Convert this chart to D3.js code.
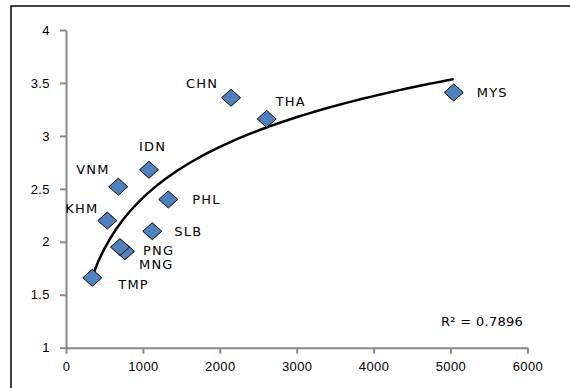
<!DOCTYPE html>
<html>
<head>
<meta charset="utf-8">
<script src="https://cdn.jsdelivr.net/npm/d3@7"></script>
<style>
  body { margin: 0; background: #fff; }
  svg { display: block; font-family: "DejaVu Sans", sans-serif; }
  .axis path, .axis line { stroke: #898989; stroke-width: 2; }
  .axis text { font-size: 13px; fill: #000; letter-spacing: 0.4px; }
  .lbl { font-size: 13px; letter-spacing: 1.2px; fill: #000; }
</style>
</head>
<body>
<script>
// countries, x values, y values
var countries = ["TMP", "MNG", "PNG", "KHM", "VNM", "SLB", "PHL", "IDN", "CHN", "THA", "MYS"];
var xValues = [342, 767, 702, 537, 680, 1122, 1330, 1079, 2146, 2610, 5042];
var yValues = [1.66, 1.91, 1.95, 2.2, 2.52, 2.1, 2.4, 2.68, 3.36, 3.16, 3.41];
var xTicks = [0, 1000, 2000, 3000, 4000, 5000, 6000];
var yTicks = [1, 1.5, 2, 2.5, 3, 3.5, 4];
var r2Text = "R\u00b2 = 0.7896";

// label placement relative to each marker (dx, dy to text middle)
var labelPos = {
  TMP: [26, 7], MNG: [14, 13], PNG: [23, 3], KHM: [-42, -12], VNM: [-42, -17],
  SLB: [22, 0], PHL: [24, 0], IDN: [-10, -23], CHN: [-45, -14], THA: [9, -18], MYS: [23, 0]
};

var width = 570, height = 388;
var svg = d3.select("body").append("svg").attr("width", width).attr("height", height);

// outer frame (runs off the right and bottom edges)
svg.append("rect").attr("x", 11).attr("y", 6).attr("width", 600).attr("height", 420)
  .attr("fill", "none").attr("stroke", "#000").attr("stroke-width", 1.5);

var x = d3.scaleLinear().domain([0, 6000]).range([66, 527.4]);
var y = d3.scaleLinear().domain([1, 4]).range([347.7, 30]);

svg.append("g").attr("class", "axis")
  .attr("transform", "translate(0," + y(1) + ")")
  .call(d3.axisBottom(x).tickValues(xTicks).tickFormat(d3.format("d"))
    .tickSize(6).tickSizeOuter(0).tickPadding(8));
svg.append("g").attr("class", "axis")
  .attr("transform", "translate(" + x(0) + ",0)")
  .call(d3.axisLeft(y).tickValues(yTicks).tickFormat(d3.format(""))
    .tickSize(6).tickSizeOuter(0).tickPadding(10));

var pts = countries.map(function (c, i) {
  return { name: c, x: xValues[i], y: yValues[i] };
});

// logarithmic trendline fit  y = a ln(x) + b
var lx = pts.map(function (d) { return Math.log(d.x); });
var mx = d3.mean(lx), my = d3.mean(yValues);
var sxy = d3.sum(lx, function (v, i) { return (v - mx) * (yValues[i] - my); });
var sxx = d3.sum(lx, function (v) { return (v - mx) * (v - mx); });
var a = sxy / sxx, b = my - a * mx;
var xmin = d3.min(xValues), xmax = d3.max(xValues);
var trend = d3.range(0, 61).map(function (i) {
  var xv = xmin + (xmax - xmin) * i / 60;
  return [xv, a * Math.log(xv) + b];
});
svg.append("path")
  .attr("d", d3.line().x(function (d) { return x(d[0]); }).y(function (d) { return y(d[1]); })(trend))
  .attr("fill", "none").attr("stroke", "#000").attr("stroke-width", 2.5);

svg.append("g").selectAll("path").data(pts).enter().append("path")
  .attr("transform", function (d) { return "translate(" + x(d.x) + "," + y(d.y) + ")"; })
  .attr("d", "M0,-8.5L9.5,0L0,8.5L-9.5,0Z")
  .attr("fill", "#4F81BD").attr("stroke", "#000").attr("stroke-width", 1);

svg.append("g").selectAll("text").data(pts).enter().append("text")
  .attr("class", "lbl")
  .attr("x", function (d) { return x(d.x) + labelPos[d.name][0]; })
  .attr("y", function (d) { return y(d.y) + labelPos[d.name][1]; })
  .attr("dy", "0.36em")
  .text(function (d) { return d.name; });

svg.append("text").attr("class", "lbl").style("letter-spacing", "0.3px")
  .attr("x", 441).attr("y", 321).attr("dy", "0.36em").text(r2Text);
</script>
</body>
</html>
